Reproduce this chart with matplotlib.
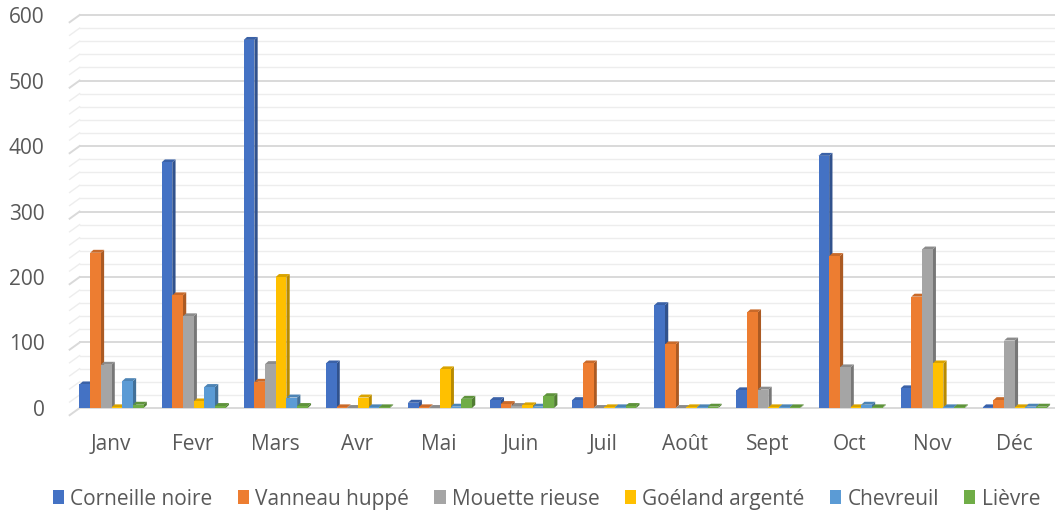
import matplotlib
matplotlib.use("Agg")
import matplotlib.pyplot as plt
from matplotlib.patches import Polygon
from matplotlib.colors import to_rgb
import matplotlib.transforms as mtransforms
import numpy as np

months = ["Janv", "Fevr", "Mars", "Avr", "Mai", "Juin", "Juil", "Août", "Sept", "Oct", "Nov", "Déc"]
corneille = [36, 375, 562, 68, 8, 12, 12, 157, 27, 385, 30, 1]
vanneau = [237, 172, 40, 1, 1, 6, 68, 97, 146, 232, 170, 12]
mouette = [66, 140, 67, 0, 0, 3, 0, 0, 28, 62, 242, 103]
goeland = [1, 10, 200, 16, 59, 4, 1, 1, 1, 1, 68, 1]
chevreuil = [41, 32, 16, 1, 2, 2, 1, 1, 1, 5, 1, 2]
lievre = [5, 3, 3, 1, 14, 18, 3, 2, 1, 1, 1, 2]

series = ["Corneille noire", "Vanneau huppé", "Mouette rieuse", "Goéland argenté", "Chevreuil", "Lièvre"]
data = [corneille, vanneau, mouette, goeland, chevreuil, lievre]
colors = ["#4472C4", "#ED7D31", "#A5A5A5", "#FFC000", "#5B9BD5", "#70AD47"]
yticks = [0, 100, 200, 300, 400, 500, 600]

plt.rcParams['font.family'] = ['Open Sans', 'DejaVu Sans']
fig = plt.figure(figsize=(10.55, 5.11), dpi=100)
ax = fig.add_axes([0.066, 0.2016, 0.934, 0.7690])

ax.set_xlim(-0.5, 11.5)
ax.set_ylim(0, 600)

trans = mtransforms.blended_transform_factory(ax.transAxes, ax.transData)
gx = 10 / 985.0
for v in np.arange(0, 601, 20):
    major = (v % 100 == 0)
    c = "#D9D9D9" if major else "#EDEDED"
    lw = 1.4 if major else 1.0
    ax.plot([gx, 1.0], [v, v], color=c, lw=lw, transform=trans, clip_on=False, zorder=0)
    ax.plot([0, gx], [v - 11, v], color=c, lw=lw, transform=trans, clip_on=False, zorder=0)

w = 0.13
dx = 0.04
dy = 4.5
x = np.arange(len(months))
n = len(series)

def darker(c, f):
    r, g, b = to_rgb(c)
    return (r * f, g * f, b * f)

for i, (vals, col, name) in enumerate(zip(data, colors, series)):
    xs = x + (i - (n - 1) / 2) * w + 0.01
    ax.bar(xs, vals, width=w, color=col, label=name, zorder=3 + i * 0.01, linewidth=0)
    for xc, v in zip(xs, vals):
        x0, x1 = xc - w / 2, xc + w / 2
        side = Polygon([(x1, 0), (x1 + dx, dy), (x1 + dx, v + dy), (x1, v)],
                       closed=True, facecolor=darker(col, 0.72), edgecolor='none', zorder=2.9 + i * 0.01)
        top = Polygon([(x0, v), (x0 + dx, v + dy), (x1 + dx, v + dy), (x1, v)],
                      closed=True, facecolor=darker(col, 0.85), edgecolor='none', zorder=2.95 + i * 0.01)
        ax.add_patch(side)
        ax.add_patch(top)

ax.set_xticks(x)
ax.set_xticklabels(months)
ax.set_yticks(yticks)
ax.tick_params(axis='both', length=0, labelsize=15, colors="#595959")
ax.tick_params(axis='x', pad=19)
ax.tick_params(axis='y', pad=18)
for s in ax.spines.values():
    s.set_visible(False)

leg = fig.legend(loc='lower center', bbox_to_anchor=(0.518, -0.034), ncol=6, frameon=False,
                 fontsize=15, handlelength=0.55, handleheight=0.65, handletextpad=0.3,
                 columnspacing=1.2, labelcolor="#595959")

fig.savefig("out.png", dpi=100)
